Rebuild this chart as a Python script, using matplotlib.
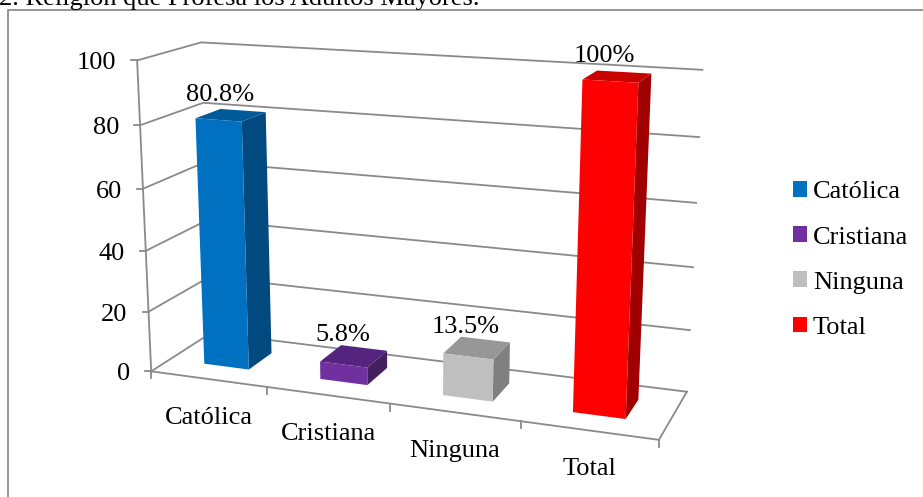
import matplotlib
matplotlib.use('Agg')
import matplotlib.pyplot as plt
import numpy as np
from matplotlib.patches import Patch, Polygon

categories = ['Católica', 'Cristiana', 'Ninguna', 'Total']
values = [80.8, 5.8, 13.5, 100]
value_labels = ['80.8%', '5.8%', '13.5%', '100%']
yticks = [0, 20, 40, 60, 80, 100]
front_colors = ['#0070C0', '#7030A0', '#BFBFBF', '#FF0000']
top_colors = ['#005A9A', '#55247F', '#979797', '#C80000']
side_colors = ['#004A80', '#43205F', '#808080', '#A00000']

GRID = '#8A8A8A'
FS = 19
plt.rcParams['font.family'] = ['Liberation Serif']

# where the chart box sits in the picture: (category, value, depth) -> pixel
anchors = [
    ((0, 0, 0), (152, 372)), ((1, 0, 0), (268, 387)), ((2, 0, 0), (390, 405)),
    ((3, 0, 0), (520, 421)), ((4, 0, 0), (659, 439)), ((4, 0, 1), (687, 392)),
    ((0, 0, 1), (212, 332)), ((0, 100, 0), (138, 60)), ((0, 100, 1), (200, 43)),
    ((4, 100, 1), (703, 70)), ((0, 20, 0), (147, 312)), ((0, 40, 0), (145, 250)),
    ((0, 60, 0), (143, 189)), ((0, 80, 0), (141, 125)), ((4, 20, 1), (690, 330)),
    ((4, 40, 1), (693, 267)), ((4, 60, 1), (696, 203)), ((4, 80, 1), (699, 137)),
]
rows, rhs = [], []
for (a, b, c), (u, v) in anchors:
    rows.append([a, b, c, 1, 0, 0, 0, 0, -u * a, -u * b, -u * c])
    rhs.append(u)
    rows.append([0, 0, 0, 0, a, b, c, 1, -v * a, -v * b, -v * c])
    rhs.append(v)
m = np.linalg.lstsq(np.array(rows, float), np.array(rhs, float), rcond=None)[0]
P = np.append(m, 1.0).reshape(3, 4)


def proj(cat, val, depth):
    p = P @ np.array([cat, val, depth, 1.0])
    return p[0] / p[2], p[1] / p[2]


fig = plt.figure(figsize=(9.23, 4.97), dpi=100)
ax = fig.add_axes([0, 0, 1, 1])
ax.set_xlim(0, 923)
ax.set_ylim(497, 0)
ax.axis('off')

# outer frame, cut by the picture edge
ax.plot([8, 8, 923], [497, 10, 10], color='#8C8C8C', lw=1.3)
ax.text(-1, 5, '2. Religión que Profesa los Adultos Mayores.', fontsize=FS,
        va='baseline', ha='left', color='black', clip_on=True)

# walls
for t in yticks:
    pts = [proj(0, t, 0), proj(0, t, 1), proj(4, t, 1)]
    ax.plot(*zip(*pts), color=GRID, lw=1.3, zorder=1)
    x0, y0 = proj(0, t, 0)
    ax.plot([x0 - 6, x0], [y0, y0], color=GRID, lw=1.3, zorder=1)
    ax.text(x0 - 21, y0 + 3, str(t), fontsize=FS, ha='right', va='center')
ax.plot(*zip(proj(0, 0, 0), proj(0, 100, 0)), color=GRID, lw=1.3, zorder=1)

# floor
floor = [proj(0, 0, 0), proj(4, 0, 0), proj(4, 0, 1)]
ax.plot(*zip(*floor), color=GRID, lw=1.3, zorder=1)
for i in range(5):
    x0, y0 = proj(i, 0, 0)
    ax.plot([x0, x0], [y0, y0 + 7], color=GRID, lw=1.3, zorder=1)

# bars
half = 0.195
zf, zb = 0.30, 0.71
for i, val in enumerate(values):
    c = i + 0.5
    l, r = c - half, c + half
    front = [proj(l, 0, zf), proj(r, 0, zf), proj(r, val, zf), proj(l, val, zf)]
    side = [proj(r, 0, zf), proj(r, 0, zb), proj(r, val, zb), proj(r, val, zf)]
    top = [proj(l, val, zf), proj(r, val, zf), proj(r, val, zb), proj(l, val, zb)]
    ax.add_patch(Polygon(side, fc=side_colors[i], ec='none', zorder=3))
    ax.add_patch(Polygon(top, fc=top_colors[i], ec='none', zorder=3))
    ax.add_patch(Polygon(front, fc=front_colors[i], ec='none', zorder=4))
    tx, ty = proj(c - 0.09, val, 0.5)
    ax.text(tx, ty - 20, value_labels[i], fontsize=FS, ha='center', va='center', zorder=5)
    lx, ly = proj(c, 0, 0)
    ax.text(lx + 0.5, ly + 38.5, categories[i], fontsize=FS, ha='center', va='center')

handles = [Patch(fc=col, ec='none', label=n) for n, col in zip(categories, front_colors)]
ax.legend(handles=handles, loc='center left', bbox_to_anchor=(793 / 923, 1 - 260 / 497),
          frameon=False, fontsize=FS, handlelength=0.53, handleheight=0.53,
          handletextpad=0.22, labelspacing=0.87, borderpad=0, borderaxespad=0)

fig.savefig('out.png', dpi=100)
